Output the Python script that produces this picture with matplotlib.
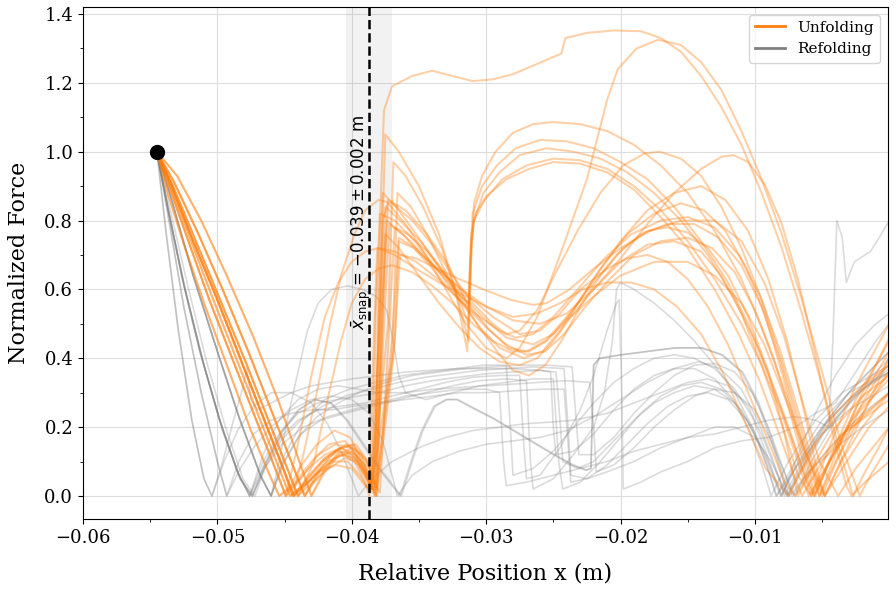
import numpy as np
import matplotlib
matplotlib.use("Agg")
import matplotlib.pyplot as plt
from matplotlib.lines import Line2D
from matplotlib.ticker import MultipleLocator

# ---------------- data (x in mm, y = normalized force) ----------------
start_point = (-54.5, 1.0)
snap_mean_mm = -38.7
snap_std_mm = 1.7
snap_label = r'$\bar{x}_{\mathrm{snap}}$ = $-0.039 \pm 0.002$ m'

# descent segments
DU_1 = [(-54.5,1.0),(-53.5,0.9),(-52.0,0.745),(-50.3,0.57),(-48.5,0.39),(-46.7,0.21),(-45.3,0.07),(-44.6,0.0)]
DU_2 = [(-54.5,1.0),(-53.4,0.9),(-51.8,0.74),(-50.0,0.57),(-48.2,0.39),(-46.4,0.21),(-45.0,0.07),(-44.3,0.0)]
DU_3 = [(-54.5,1.0),(-53.3,0.9),(-51.6,0.74),(-49.8,0.57),(-47.9,0.39),(-46.1,0.21),(-44.7,0.07),(-44.0,0.0)]
DU_4 = [(-54.5,1.0),(-53.6,0.9),(-52.2,0.745),(-50.6,0.57),(-48.8,0.39),(-47.0,0.21),(-45.6,0.07),(-44.9,0.0)]
DU_5 = [(-54.5,1.0),(-53.2,0.91),(-51.4,0.76),(-49.5,0.59),(-47.6,0.41),(-45.8,0.23),(-44.3,0.08),(-43.5,0.0)]
DU_6 = [(-54.5,1.0),(-53.0,0.93),(-51.2,0.8),(-49.3,0.64),(-47.3,0.46),(-45.4,0.27),(-43.9,0.1),(-43.0,0.0)]
DU_7 = [(-54.5,1.0),(-53.7,0.88),(-52.4,0.72),(-50.9,0.55),(-49.2,0.37),(-47.5,0.19),(-46.1,0.06),(-45.4,0.0)]
DU_8 = [(-54.5,1.0),(-53.4,0.9),(-51.9,0.75),(-50.1,0.58),(-48.3,0.4),(-46.5,0.22),(-45.1,0.08),(-44.4,0.0)]

DG_A = [(-54.5,1.0),(-53.6,0.82),(-52.4,0.6),(-51.0,0.38),(-49.6,0.19),(-48.3,0.05),(-47.4,0.0)]
DG_B = [(-54.5,1.0),(-53.7,0.84),(-52.6,0.63),(-51.3,0.42),(-49.9,0.23),(-48.5,0.07),(-47.6,0.0)]
DG_C = [(-54.5,1.0),(-53.8,0.76),(-52.9,0.48),(-51.9,0.22),(-51.0,0.05),(-50.4,0.0)]
DG_D = [(-54.5,1.0),(-53.6,0.8),(-52.5,0.55),(-51.2,0.3),(-50.0,0.1),(-49.3,0.0)]
DG_E = [(-54.5,1.0),(-53.4,0.86),(-51.8,0.64),(-50.0,0.42),(-48.4,0.23),(-46.8,0.06),(-46.0,0.0)]
DG_F = [(-54.5,1.0),(-53.5,0.83),(-52.2,0.61),(-50.8,0.39),(-49.4,0.2),(-48.1,0.05),(-47.2,0.0)]

u01 = DU_8 + [(-43.2,0.04),(-41.8,0.1),(-40.6,0.12),(-39.5,0.09),(-38.6,0.03),(-38.2,0.2),(-37.9,0.8),(-37.6,1.12),(-37.0,1.19),(-35.5,1.22),(-34,1.235),(-32.5,1.22),(-31,1.205),(-29.5,1.21),(-28,1.225),(-26.5,1.25),(-24.4,1.285),(-24.1,1.33),(-22.5,1.345),(-20.5,1.352),(-18.5,1.35),(-17,1.33),(-15.5,1.29),(-14,1.22),(-12.5,1.13),(-11,1.02),(-9.5,0.88),(-8,0.72),(-6.5,0.53),(-5,0.32),(-3.6,0.12),(-2.7,0.0),(-1.8,0.07),(-0.8,0.14),(0,0.2)]
u02 = DU_5 + [(-42.6,0.05),(-41.2,0.11),(-40.0,0.13),(-39.0,0.09),(-38.4,0.02),(-38.0,0.45),(-37.7,0.8),(-37.3,0.85),(-36,0.79),(-34.5,0.7),(-33,0.6),(-31.5,0.5),(-30,0.43),(-28.5,0.4),(-27.5,0.43),(-26.2,0.52),(-24.5,0.7),(-22.5,0.92),(-21,1.15),(-20.2,1.24),(-18.8,1.3),(-17.2,1.325),(-15.5,1.31),(-14,1.26),(-12.5,1.18),(-11,1.06),(-9.5,0.92),(-8,0.76),(-6.5,0.57),(-5,0.36),(-3.5,0.14),(-2.2,0.0),(-1.4,0.06),(0,0.15)]
u03 = DU_2 + [(-43.0,0.05),(-41.6,0.12),(-40.4,0.15),(-39.3,0.12),(-38.5,0.04),(-38.0,0.3),(-37.7,0.8),(-37.5,1.05),(-36.5,1.0),(-35,0.9),(-33.5,0.76),(-32.3,0.6),(-31.3,0.45),(-31.1,0.7),(-30.9,0.85),(-30.3,0.93),(-29.3,1.0),(-28,1.055),(-26.5,1.08),(-25,1.086),(-23,1.08),(-21,1.06),(-19,1.02),(-17,0.96),(-15,0.88),(-13,0.77),(-11,0.63),(-9.5,0.49),(-8,0.33),(-6.5,0.16),(-5,0.0),(-3.5,0.14),(-2,0.27),(0,0.4)]
u04 = DU_7 + [(-44.2,0.04),(-43.0,0.1),(-41.7,0.15),(-40.5,0.16),(-39.3,0.1),(-38.5,0.02),(-37.3,0.5),(-36.9,0.97),(-36.0,0.93),(-34.7,0.84),(-33.3,0.72),(-32.2,0.58),(-31.4,0.42),(-31.2,0.68),(-31.0,0.82),(-30.3,0.9),(-29.2,0.96),(-27.8,1.01),(-26,1.034),(-24,1.03),(-22,1.01),(-20,0.97),(-18,0.92),(-16,0.84),(-14,0.74),(-12,0.62),(-10.5,0.5),(-9,0.36),(-7.5,0.2),(-6.2,0.05),(-5.6,0.0),(-4.2,0.12),(-2.5,0.24),(0,0.36)]
u05 = DU_3 + [(-42.8,0.06),(-41.5,0.1),(-40.3,0.1),(-39.4,0.06),(-38.6,0.01),(-37.0,0.4),(-36.6,0.88),(-35.6,0.84),(-34.4,0.76),(-33,0.65),(-32,0.57),(-31.3,0.5),(-31.1,0.72),(-30.9,0.8),(-30.2,0.88),(-29,0.94),(-27.5,0.99),(-25.5,1.01),(-23.5,1.0),(-21.5,0.98),(-19.5,0.94),(-17.5,0.88),(-15.5,0.8),(-13.5,0.7),(-11.5,0.57),(-10,0.45),(-8.5,0.3),(-7,0.14),(-5.8,0.0),(-4.5,0.1),(-2.8,0.22),(0,0.34)]
u06 = DU_4 + [(-43.8,0.05),(-42.5,0.12),(-41.2,0.15),(-40.0,0.14),(-39.0,0.08),(-38.3,0.0),(-37.8,0.45),(-37.3,0.86),(-36.0,0.83),(-34.4,0.76),(-32.8,0.67),(-31.3,0.55),(-31.1,0.74),(-30.9,0.8),(-30.1,0.86),(-28.8,0.92),(-27,0.96),(-25,0.98),(-23,0.975),(-21,0.95),(-19,0.9),(-17,0.83),(-15,0.74),(-13,0.63),(-11,0.5),(-9.5,0.38),(-8,0.24),(-6.8,0.1),(-6.0,0.0),(-4.6,0.09),(-3,0.19),(0,0.3)]
u07 = DU_1 + [(-43.6,0.03),(-42.4,0.07),(-41.2,0.09),(-40.0,0.08),(-39.0,0.03),(-38.6,0.02),(-37.9,0.5),(-37.5,0.84),(-36.4,0.8),(-34.9,0.74),(-33.3,0.66),(-31.9,0.58),(-31.3,0.56),(-31.1,0.76),(-30.8,0.82),(-30,0.87),(-28.5,0.92),(-26.8,0.95),(-25,0.97),(-23,0.965),(-21,0.94),(-19,0.89),(-17,0.81),(-15,0.72),(-13,0.6),(-11.2,0.47),(-9.6,0.33),(-8.2,0.18),(-7,0.05),(-6.5,0.0),(-5,0.1),(-3,0.2),(0,0.3)]
u08 = DU_2 + [(-43.3,0.05),(-42,0.11),(-40.8,0.14),(-39.7,0.11),(-38.8,0.04),(-38.3,0.02),(-38.0,0.5),(-37.7,0.88),(-36.7,0.84),(-35.2,0.76),(-33.6,0.67),(-32,0.58),(-30.5,0.49),(-29,0.41),(-28,0.365),(-26.8,0.35),(-25.6,0.38),(-24.4,0.45),(-23,0.55),(-21.5,0.64),(-19.8,0.72),(-18,0.77),(-16.5,0.78),(-15,0.765),(-13.5,0.72),(-12,0.64),(-10.5,0.52),(-9,0.36),(-7.8,0.18),(-6.8,0.0),(-5.5,0.1),(-4,0.2),(-2,0.29),(0,0.35)]
u09 = DU_4 + [(-43.9,0.08),(-42.6,0.15),(-41.3,0.19),(-40.1,0.17),(-39.1,0.09),(-38.5,0.02),(-38.2,0.55),(-37.9,0.82),(-36.8,0.8),(-35.3,0.74),(-33.7,0.66),(-32,0.57),(-30.5,0.49),(-29,0.43),(-27.2,0.4),(-25.8,0.42),(-24.5,0.48),(-23,0.57),(-21.5,0.66),(-19.5,0.76),(-17.5,0.82),(-15.5,0.85),(-13.8,0.83),(-12.2,0.77),(-10.6,0.66),(-9.2,0.52),(-8,0.36),(-6.8,0.18),(-5.5,0.0),(-4.3,0.12),(-2.5,0.28),(0,0.45)]
u10 = DU_3 + [(-42.9,0.04),(-41.7,0.08),(-40.5,0.11),(-39.5,0.1),(-38.6,0.05),(-37.9,0.01),(-37.2,0.5),(-36.8,0.78),(-35.8,0.76),(-34.4,0.71),(-33,0.64),(-31.5,0.57),(-30,0.51),(-28.5,0.46),(-26.5,0.44),(-25,0.47),(-23.5,0.54),(-22,0.63),(-20,0.74),(-18,0.83),(-16,0.88),(-14,0.9),(-12.2,0.86),(-10.5,0.77),(-9,0.63),(-7.6,0.45),(-6.3,0.24),(-5.4,0.08),(-4.8,0.0),(-3.6,0.1),(-2,0.2),(0,0.3)]
u11 = DU_6 + [(-42,0.08),(-40.9,0.13),(-39.9,0.12),(-39,0.07),(-38.2,0.0),(-37.0,0.45),(-36.5,0.75),(-35.3,0.72),(-34,0.67),(-32.5,0.62),(-31,0.57),(-29.5,0.52),(-27.5,0.47),(-26,0.48),(-24.5,0.53),(-23,0.6),(-21,0.66),(-19.5,0.69),(-18,0.7),(-16.5,0.68),(-15,0.63),(-13.5,0.55),(-12,0.44),(-10.5,0.3),(-9,0.16),(-7.8,0.04),(-7.0,0.0),(-5.5,0.09),(-3.5,0.18),(0,0.28)]
u12 = DU_1 + [(-43.4,0.04),(-42.2,0.1),(-41,0.13),(-39.9,0.11),(-39,0.04),(-38.7,0.0),(-38.4,0.4),(-38.1,0.72),(-36.8,0.7),(-35.2,0.66),(-33.5,0.62),(-32,0.59),(-30,0.55),(-28,0.51),(-26,0.5),(-24,0.53),(-22,0.6),(-20,0.69),(-18,0.79),(-16,0.88),(-14,0.95),(-12.5,0.985),(-11.6,0.99),(-10.5,0.97),(-9.2,0.9),(-8,0.79),(-6.8,0.63),(-5.5,0.41),(-4.2,0.18),(-3.2,0.03),(-2.8,0.0),(-1.8,0.04),(0,0.1)]
u13 = DU_7 + [(-44.3,0.03),(-43.2,0.08),(-42.0,0.12),(-40.8,0.14),(-39.7,0.12),(-38.8,0.05),(-38.2,0.0),(-37.8,0.5),(-37.4,0.8),(-36.2,0.76),(-34.8,0.7),(-33.3,0.65),(-31.8,0.6),(-30,0.55),(-28,0.52),(-26.2,0.53),(-24.5,0.56),(-22.8,0.6),(-21,0.62),(-19.2,0.62),(-17.5,0.6),(-15.8,0.55),(-14,0.47),(-12.4,0.36),(-10.8,0.22),(-9.2,0.08),(-7.5,0.0),(-6,0.12),(-4,0.24),(-2,0.32),(0,0.38)]
u14 = DU_5 + [(-42.4,0.07),(-41,0.12),(-39.9,0.14),(-38.9,0.1),(-38.1,0.02),(-36.9,0.4),(-36.4,0.7),(-35.2,0.69),(-33.6,0.66),(-32,0.63),(-30.2,0.6),(-28.2,0.57),(-26.5,0.555),(-25.5,0.56),(-23.8,0.6),(-22,0.66),(-20,0.72),(-17.8,0.77),(-15.5,0.8),(-13,0.8),(-11,0.74),(-9.3,0.62),(-7.8,0.46),(-6.5,0.28),(-5.2,0.1),(-3.8,0.0),(-2.5,0.08),(0,0.2)]
u15 = DU_6 + [(-42,0.07),(-40.9,0.12),(-39.8,0.11),(-38.8,0.05),(-38.1,0.0),(-37.8,0.4),(-37.5,0.76),(-36.5,0.72),(-35,0.64),(-33.5,0.56),(-32,0.49),(-30.5,0.43),(-29,0.39),(-27.5,0.38),(-26.2,0.4),(-25,0.45),(-23.5,0.53),(-22,0.6),(-20,0.68),(-18,0.73),(-16,0.74),(-14,0.71),(-12.5,0.64),(-11,0.53),(-9.5,0.38),(-8,0.21),(-6.8,0.06),(-5.8,0.0),(-4.5,0.14),(-2.5,0.32),(0,0.5)]
u16 = DU_8 + [(-43.6,0.12),(-42.6,0.3),(-41.6,0.5),(-40.8,0.64),(-39.8,0.76),(-39,0.83),(-38,0.86),(-37,0.85),(-35.5,0.8),(-34,0.73),(-32.5,0.64),(-31,0.56),(-29.5,0.5),(-28.5,0.47),(-27.5,0.48),(-26.2,0.54),(-24.8,0.65),(-23.2,0.77),(-21.5,0.88),(-19.8,0.96),(-18.2,0.995),(-17.1,1.0),(-15.5,0.98),(-14,0.93),(-12.5,0.84),(-11,0.72),(-9.5,0.57),(-8,0.39),(-6.6,0.2),(-5.2,0.0),(-4,0.1),(-2,0.24),(0,0.36)]
u17 = DU_3 + [(-42.8,0.1),(-41.8,0.28),(-40.8,0.45),(-40,0.56),(-39,0.63),(-38,0.66),(-37,0.67),(-35.5,0.65),(-34,0.61),(-32.5,0.56),(-31,0.5),(-29.5,0.45),(-28,0.42),(-26.8,0.42),(-25.5,0.45),(-24,0.51),(-22,0.58),(-20,0.64),(-17.5,0.68),(-15,0.68),(-13,0.64),(-11,0.56),(-9.3,0.44),(-7.8,0.29),(-6.3,0.13),(-4.8,0.0),(-3.5,0.08),(-1.5,0.2),(0,0.26)]
u18 = DU_4 + [(-44,0.15),(-43,0.35),(-42,0.52),(-41,0.62),(-40,0.68),(-39,0.71),(-38,0.72),(-36.8,0.71),(-35.2,0.68),(-33.6,0.63),(-32,0.57),(-30.5,0.52),(-29,0.48),(-27.8,0.46),(-26.5,0.47),(-25,0.52),(-23.2,0.6),(-21.2,0.69),(-19.2,0.76),(-17,0.8),(-15,0.81),(-13,0.78),(-11.2,0.7),(-9.6,0.58),(-8.1,0.42),(-6.8,0.25),(-5.5,0.07),(-4.8,0.0),(-3.6,0.1),(-1.8,0.25),(0,0.4)]
u19 = DU_5 + [(-42.5,0.07),(-41.2,0.13),(-40,0.15),(-39,0.11),(-38.2,0.03),(-36.8,0.45),(-36.5,0.74),(-35.4,0.72),(-34.2,0.67),(-33,0.61),(-31.5,0.55),(-30,0.49),(-28.5,0.44),(-27,0.41),(-25.6,0.42),(-24.2,0.47),(-22.6,0.55),(-20.8,0.63),(-19,0.7),(-17,0.74),(-15,0.75),(-13.2,0.72),(-11.5,0.65),(-10,0.54),(-8.6,0.4),(-7.3,0.23),(-6.2,0.07),(-5.6,0.0),(-4.3,0.11),(-2.4,0.26),(0,0.42)]
u20 = DU_2 + [(-43.2,0.06),(-42,0.11),(-40.8,0.14),(-39.7,0.15),(-38.8,0.1),(-38.2,0.02),(-37.6,0.5),(-37.2,0.79),(-35.9,0.75),(-34.4,0.69),(-32.8,0.62),(-31.2,0.55),(-29.7,0.48),(-28.3,0.43),(-27,0.42),(-25.6,0.45),(-24,0.52),(-22.2,0.61),(-20.3,0.7),(-18.5,0.76),(-16.5,0.79),(-14.5,0.79),(-12.7,0.75),(-11,0.67),(-9.5,0.55),(-8.1,0.39),(-6.9,0.22),(-5.8,0.06),(-5.2,0.0),(-4,0.12),(-2,0.3),(0,0.46)]

r01 = DG_A + [(-46.4,0.1),(-45.2,0.19),(-44,0.25),(-42.8,0.28),(-41.6,0.27),(-40.4,0.22),(-39.2,0.15),(-38,0.08),(-37,0.03),(-36.4,0.0),(-35.6,0.1),(-34.8,0.19),(-33.9,0.26),(-33,0.28),(-32.2,0.28),(-31,0.255),(-29.5,0.225),(-28,0.19),(-26.5,0.155),(-25,0.12),(-23.6,0.09),(-22.6,0.075),(-22.2,0.08),(-22.0,0.38),(-21.6,0.4),(-20,0.41),(-18,0.42),(-16,0.43),(-14,0.43),(-12.5,0.41),(-11,0.36),(-9.8,0.27),(-8.8,0.16),(-8,0.06),(-7.6,0.0),(-6.5,0.08),(-5,0.18),(-3.5,0.25),(-2,0.31),(0,0.37)]
r02 = DG_F + [(-46.3,0.1),(-45.1,0.19),(-43.9,0.25),(-42.7,0.28),(-41.5,0.27),(-40.3,0.22),(-39.1,0.15),(-37.9,0.08),(-36.9,0.03),(-36.3,0.0),(-35.5,0.1),(-34.7,0.19),(-33.8,0.26),(-32.9,0.28),(-32.1,0.28),(-30.9,0.255),(-29.4,0.225),(-27.9,0.19),(-26.4,0.155),(-24.9,0.12),(-23.5,0.09),(-22.5,0.075),(-22.2,0.08),(-22.0,0.38),(-21.5,0.4),(-19.9,0.41),(-17.9,0.42),(-15.9,0.43),(-13.9,0.43),(-12.4,0.41),(-10.9,0.36),(-9.7,0.27),(-8.7,0.16),(-7.9,0.06),(-7.5,0.0),(-6.4,0.08),(-4.9,0.18),(-3.4,0.25),(-1.9,0.31),(0,0.38)]
r03 = DG_B + [(-46.6,0.1),(-45.4,0.18),(-44,0.24),(-42.5,0.27),(-41,0.28),(-39.5,0.29),(-38,0.3),(-36,0.32),(-34,0.335),(-32,0.345),(-30,0.355),(-28,0.36),(-26,0.365),(-24.8,0.36),(-24.5,0.22),(-24.3,0.1),(-23.2,0.08),(-22,0.1),(-20.5,0.16),(-19,0.22),(-17.5,0.27),(-16,0.3),(-14.5,0.32),(-13,0.31),(-11.5,0.27),(-10.2,0.2),(-9,0.1),(-8,0.0),(-6.8,0.1),(-5,0.2),(-3,0.28),(0,0.36)]
r04 = DG_A + [(-46.5,0.08),(-45.3,0.16),(-43.8,0.22),(-42.2,0.26),(-40.5,0.29),(-38.5,0.31),(-36.5,0.33),(-34.5,0.345),(-32.5,0.355),(-30.5,0.365),(-28.5,0.37),(-26.5,0.375),(-24.2,0.37),(-23.9,0.2),(-23.7,0.06),(-22.5,0.05),(-21,0.09),(-19.5,0.15),(-18,0.21),(-16.5,0.26),(-15,0.29),(-13.5,0.3),(-12,0.28),(-10.6,0.22),(-9.4,0.13),(-8.4,0.03),(-8.1,0.0),(-7,0.08),(-5,0.2),(-3,0.3),(0,0.42)]
r05 = DG_E + [(-45.2,0.09),(-44,0.17),(-42.6,0.23),(-41,0.27),(-39.5,0.3),(-37.5,0.33),(-35.5,0.35),(-33.5,0.36),(-31.5,0.37),(-29.5,0.375),(-27.5,0.38),(-25.5,0.38),(-23.6,0.375),(-23.3,0.22),(-23.1,0.12),(-22,0.12),(-20.5,0.17),(-19,0.24),(-17.5,0.3),(-16,0.35),(-14.5,0.38),(-13,0.385),(-11.5,0.36),(-10.2,0.3),(-9,0.2),(-7.9,0.08),(-7.2,0.0),(-6,0.07),(-4,0.16),(-2,0.24),(0,0.3)]
r06 = DG_B + [(-46.6,0.12),(-45.4,0.22),(-44,0.28),(-42.5,0.31),(-41,0.32),(-39.5,0.31),(-38,0.3),(-36,0.3),(-34,0.31),(-32,0.315),(-30,0.32),(-28,0.325),(-26,0.33),(-24,0.335),(-22.3,0.33),(-22.0,0.2),(-21.8,0.07),(-20.5,0.09),(-19,0.14),(-17.5,0.2),(-16,0.25),(-14.5,0.29),(-13,0.31),(-11.5,0.3),(-10,0.25),(-8.8,0.16),(-7.6,0.05),(-7.0,0.0),(-5.8,0.1),(-4,0.22),(-2,0.32),(0,0.4)]
r07 = DG_D + [(-48.4,0.1),(-47.3,0.18),(-46,0.22),(-44.5,0.24),(-43,0.25),(-41.5,0.25),(-40,0.26),(-38,0.27),(-36,0.28),(-34,0.29),(-32,0.3),(-30,0.3),(-28,0.305),(-26,0.31),(-24.2,0.31),(-23.9,0.15),(-23.7,0.04),(-22.5,0.05),(-21,0.07),(-19,0.1),(-17,0.14),(-15,0.17),(-13,0.2),(-11.5,0.2),(-10,0.17),(-8.8,0.1),(-7.8,0.02),(-7.4,0.0),(-6,0.07),(-4,0.14),(-2,0.2),(0,0.25)]
r08 = DG_C + [(-49.5,0.1),(-48.5,0.19),(-47.3,0.26),(-46,0.3),(-44.5,0.3),(-43,0.27),(-41.8,0.21),(-40.8,0.13),(-40,0.05),(-39.5,0.0),(-38.5,0.05),(-37,0.1),(-35,0.14),(-33,0.17),(-31,0.19),(-29,0.2),(-27,0.21),(-25,0.215),(-23.5,0.22),(-21,0.24),(-19,0.27),(-17,0.3),(-15,0.33),(-13.5,0.34),(-12,0.32),(-10.5,0.26),(-9.3,0.16),(-8.3,0.06),(-7.8,0.0),(-6.5,0.1),(-4.5,0.22),(-2.5,0.3),(0,0.36)]
r09 = DG_E + [(-45.4,0.1),(-44.8,0.22),(-44.0,0.36),(-43.3,0.48),(-42.5,0.56),(-41.5,0.6),(-40.3,0.61),(-39.2,0.6),(-38.2,0.58),(-37.4,0.54),(-36.9,0.45),(-36.5,0.35),(-36.0,0.3),(-34.5,0.28),(-32.5,0.3),(-30.5,0.32),(-28.5,0.33),(-26.5,0.34),(-25,0.34),(-24.6,0.1),(-24.3,0.02),(-23,0.04),(-21.5,0.1),(-20,0.17),(-18.5,0.24),(-17,0.29),(-15.5,0.32),(-14,0.33),(-12.5,0.31),(-11,0.25),(-9.8,0.16),(-8.8,0.05),(-8.4,0.0),(-7,0.1),(-5,0.22),(-3,0.3),(0,0.36)]
r10 = DG_E + [(-45,0.1),(-43.8,0.18),(-42.3,0.22),(-40.5,0.24),(-38.5,0.26),(-36.5,0.28),(-34.5,0.3),(-32.5,0.32),(-30.5,0.335),(-28.5,0.34),(-27,0.335),(-26.7,0.1),(-26.5,0.02),(-25,0.05),(-23.5,0.12),(-22,0.2),(-21.2,0.3),(-20.6,0.45),(-20.3,0.6),(-20.0,0.62),(-19,0.6),(-17.5,0.56),(-16,0.51),(-14.5,0.45),(-13,0.38),(-11.5,0.3),(-10.2,0.2),(-9.1,0.09),(-8.4,0.0),(-7,0.08),(-5,0.18),(-3,0.25),(0,0.32)]
r11 = DG_B + [(-46.5,0.09),(-45.3,0.17),(-44,0.22),(-42.5,0.25),(-41,0.26),(-39,0.27),(-37,0.29),(-35,0.31),(-33,0.33),(-31,0.345),(-29,0.35),(-27.5,0.35),(-27.2,0.15),(-27.0,0.05),(-26,0.06),(-24.5,0.14),(-23,0.25),(-22,0.35),(-21,0.48),(-20.3,0.56),(-20.1,0.57),(-19.9,0.3),(-19.8,0.02),(-18.5,0.04),(-17,0.07),(-15,0.1),(-13,0.14),(-11,0.16),(-9,0.17),(-7,0.2),(-5.5,0.24),(-4,0.27),(-2.5,0.36),(-1,0.45),(0,0.5)]
r12 = DG_A + [(-46.5,0.08),(-45.2,0.15),(-43.6,0.2),(-41.8,0.23),(-40,0.25),(-38,0.27),(-36,0.29),(-34,0.3),(-32,0.31),(-30,0.31),(-29,0.3),(-28.7,0.1),(-28.5,0.03),(-27,0.04),(-25,0.06),(-23,0.08),(-21,0.1),(-19,0.13),(-17,0.15),(-15,0.17),(-13,0.18),(-11,0.2),(-9,0.22),(-7,0.23),(-5.5,0.22),(-4.5,0.2),(-4.2,0.45),(-3.9,0.8),(-3.5,0.75),(-3.2,0.62),(-2.6,0.68),(-1.4,0.71),(-0.6,0.76),(0,0.8)]
r13 = DG_E + [(-45,0.12),(-43.6,0.22),(-42,0.28),(-40.2,0.31),(-38.2,0.33),(-36.2,0.35),(-34.2,0.36),(-32.2,0.37),(-30.2,0.38),(-28.5,0.38),(-28.2,0.2),(-28,0.06),(-26.5,0.08),(-25,0.13),(-23.5,0.2),(-22,0.27),(-20.5,0.33),(-19,0.37),(-17.5,0.4),(-16,0.41),(-14.5,0.4),(-13,0.37),(-11.5,0.31),(-10.2,0.23),(-9.2,0.13),(-8.4,0.04),(-8.0,0.0),(-6.8,0.12),(-5.5,0.24),(-4,0.35),(-2.5,0.44),(-1,0.5),(0,0.53)]
r14 = DG_C + [(-49.6,0.1),(-48.8,0.22),(-48.2,0.3),(-47.8,0.37),(-47.5,0.28),(-47,0.25),(-46,0.27),(-44.5,0.3),(-43,0.32),(-41.5,0.33),(-40,0.34),(-38,0.35),(-36,0.36),(-34,0.365),(-32,0.37),(-30,0.37),(-28,0.37),(-26,0.365),(-25.2,0.36),(-25.0,0.2),(-24.8,0.12),(-23.5,0.13),(-22,0.18),(-20.5,0.25),(-19,0.31),(-17.5,0.35),(-16,0.37),(-14.5,0.37),(-13,0.34),(-11.6,0.28),(-10.4,0.19),(-9.4,0.08),(-8.8,0.0),(-7.5,0.1),(-5.5,0.22),(-3.5,0.3),(0,0.38)]
r15 = DG_D + [(-48.3,0.08),(-47.3,0.14),(-46,0.2),(-44.5,0.25),(-43,0.28),(-41.5,0.29),(-40,0.28),(-38.7,0.24),(-37.7,0.16),(-37,0.06),(-36.6,0.0),(-35.5,0.06),(-34,0.1),(-32,0.13),(-30,0.15),(-28,0.16),(-26,0.17),(-24,0.19),(-22,0.23),(-20,0.28),(-18,0.33),(-16,0.37),(-14.2,0.39),(-12.6,0.37),(-11,0.31),(-9.8,0.22),(-8.8,0.12),(-7.9,0.02),(-7.6,0.0),(-6.4,0.1),(-4.6,0.22),(-2.6,0.32),(0,0.42)]

unfolding = [u01, u02, u03, u04, u05, u06, u07, u08, u09, u10,
             u11, u12, u13, u14, u15, u16, u17, u18, u19, u20]
refolding = [r01, r02, r03, r04, r05, r06, r07, r08, r09, r10,
             r11, r12, r13, r14, r15]

x_ticks = [-0.06, -0.05, -0.04, -0.03, -0.02, -0.01]
y_ticks = [0.0, 0.2, 0.4, 0.6, 0.8, 1.0, 1.2, 1.4]

# ---------------- plotting ----------------
plt.rcParams['font.family'] = ['DejaVu Serif']
fig = plt.figure(figsize=(8.96, 5.90), dpi=100)
ax = fig.add_axes([0.0926, 0.1203, 0.8984, 0.8677])

ORANGE = '#ff7f0e'
GRAY = '#808080'

for c in refolding:
    xs, ys = zip(*c)
    ax.plot(np.array(xs) / 1000.0, ys, color=GRAY, alpha=0.28, lw=1.2, zorder=2)
for c in unfolding:
    xs, ys = zip(*c)
    ax.plot(np.array(xs) / 1000.0, ys, color=ORANGE, alpha=0.36, lw=1.5, zorder=3)

ax.axvspan((snap_mean_mm - snap_std_mm) / 1000.0, (snap_mean_mm + snap_std_mm) / 1000.0,
           color='gray', alpha=0.1, lw=0, zorder=1)
ax.axvline(snap_mean_mm / 1000.0, color='black', ls='--', lw=1.8, zorder=5)
ax.text(-0.0393, 0.482, snap_label, rotation=90, ha='center', va='bottom',
        fontsize=12, family='DejaVu Sans', zorder=6)

ax.plot(start_point[0] / 1000.0, start_point[1], 'o', color='black', ms=10, zorder=7)

ax.set_xlim(-0.06, -0.0001)
ax.set_ylim(-0.067, 1.42)
ax.set_xticks(x_ticks)
ax.set_yticks(y_ticks)
ax.xaxis.set_minor_locator(MultipleLocator(0.005))
ax.yaxis.set_minor_locator(MultipleLocator(0.1))
ax.tick_params(labelsize=13)
ax.grid(True, which='major', color='#dddddd', lw=0.8, zorder=0)
ax.set_axisbelow(True)

ax.set_xlabel('Relative Position x (m)', fontsize=16, labelpad=11)
ax.set_ylabel('Normalized Force', fontsize=16, labelpad=10)

handles = [Line2D([0], [0], color=ORANGE, lw=2),
           Line2D([0], [0], color=GRAY, lw=2)]
ax.legend(handles, ['Unfolding', 'Refolding'], loc='upper right', fontsize=11)

fig.savefig('out.png', dpi=100)
